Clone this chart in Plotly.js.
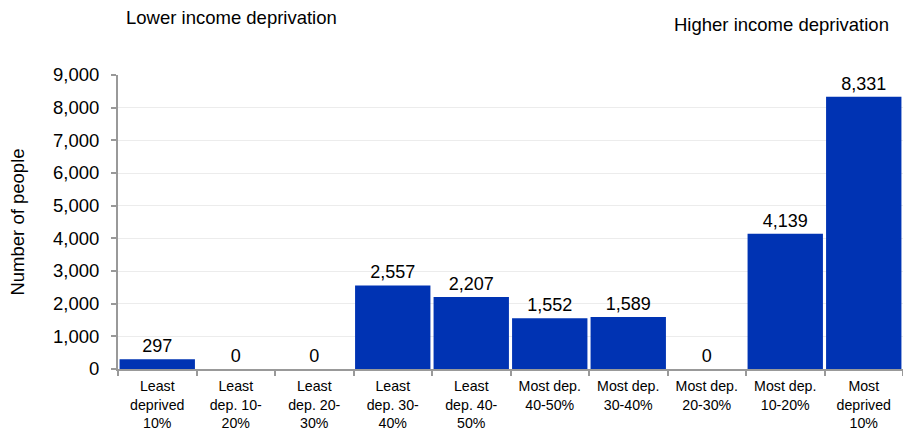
<!DOCTYPE html>
<html><head><meta charset="utf-8">
<script src="https://cdn.plot.ly/plotly-3.0.1.min.js"></script>
<style>body{margin:0;}#chart{width:903px;height:435px;}</style>
</head><body><div id="chart"></div>
<script>
const categories = ["Least<br>deprived<br>10%","Least<br>dep. 10-<br>20%","Least<br>dep. 20-<br>30%","Least<br>dep. 30-<br>40%","Least<br>dep. 40-<br>50%","Most dep.<br>40-50%","Most dep.<br>30-40%","Most dep.<br>20-30%","Most dep.<br>10-20%","Most<br>deprived<br>10%"];
const people = [297, 0, 0, 2557, 2207, 1552, 1589, 0, 4139, 8331];
const yTicks = [0,1000,2000,3000,4000,5000,6000,7000,8000,9000];

const font = "Liberation Sans, Arial, sans-serif";
Plotly.newPlot('chart', [{
  type: 'bar',
  x: categories,
  y: people,
  marker: {color: '#0033b3'},
  text: people.map(v => v.toLocaleString('en-US')),
  textposition: 'outside',
  cliponaxis: false,
  textfont: {family: font, size: 18, color: '#000'},
  hoverinfo: 'x+y'
}], {
  width: 903, height: 435,
  margin: {l: 118, r: 0, t: 75, b: 66},
  paper_bgcolor: '#fff', plot_bgcolor: '#fff',
  bargap: 0.04,
  showlegend: false,
  font: {family: font, color: '#000'},
  xaxis: {
    type: 'category',
    tickson: 'boundaries',
    ticks: 'outside', ticklen: 5, tickcolor: '#999', tickwidth: 2,
    showline: true, linecolor: '#999', linewidth: 2,
    showgrid: false,
    tickfont: {family: font, size: 14.2, color: '#000'},
    ticklabelstandoff: 3,
    automargin: false
  },
  yaxis: {
    range: [0, 9000],
    tickvals: yTicks,
    ticktext: yTicks.map(v => v.toLocaleString('en-US')),
    ticks: 'outside', ticklen: 5, tickcolor: '#999', tickwidth: 2,
    showline: true, linecolor: '#999', linewidth: 2,
    gridcolor: '#ececec', gridwidth: 1,
    zeroline: false,
    tickfont: {family: font, size: 18.5, color: '#000'},
    ticklabelstandoff: 8,
    title: {text: 'Number of people', font: {family: font, size: 18.5, color: '#000'}, standoff: 24},
    automargin: false
  },
  annotations: [
    {text: 'Lower income deprivation', xref: 'paper', yref: 'paper', x: 0, y: 1.194, xanchor: 'left', yanchor: 'middle', xshift: 6, showarrow: false, font: {family: font, size: 18.5, color: '#000'}},
    {text: 'Higher income deprivation', xref: 'paper', yref: 'paper', x: 1, y: 1.173, xanchor: 'right', yanchor: 'middle', xshift: -12, showarrow: false, font: {family: font, size: 18.5, color: '#000'}}
  ]
}, {displayModeBar: false, staticPlot: true});
</script></body></html>
